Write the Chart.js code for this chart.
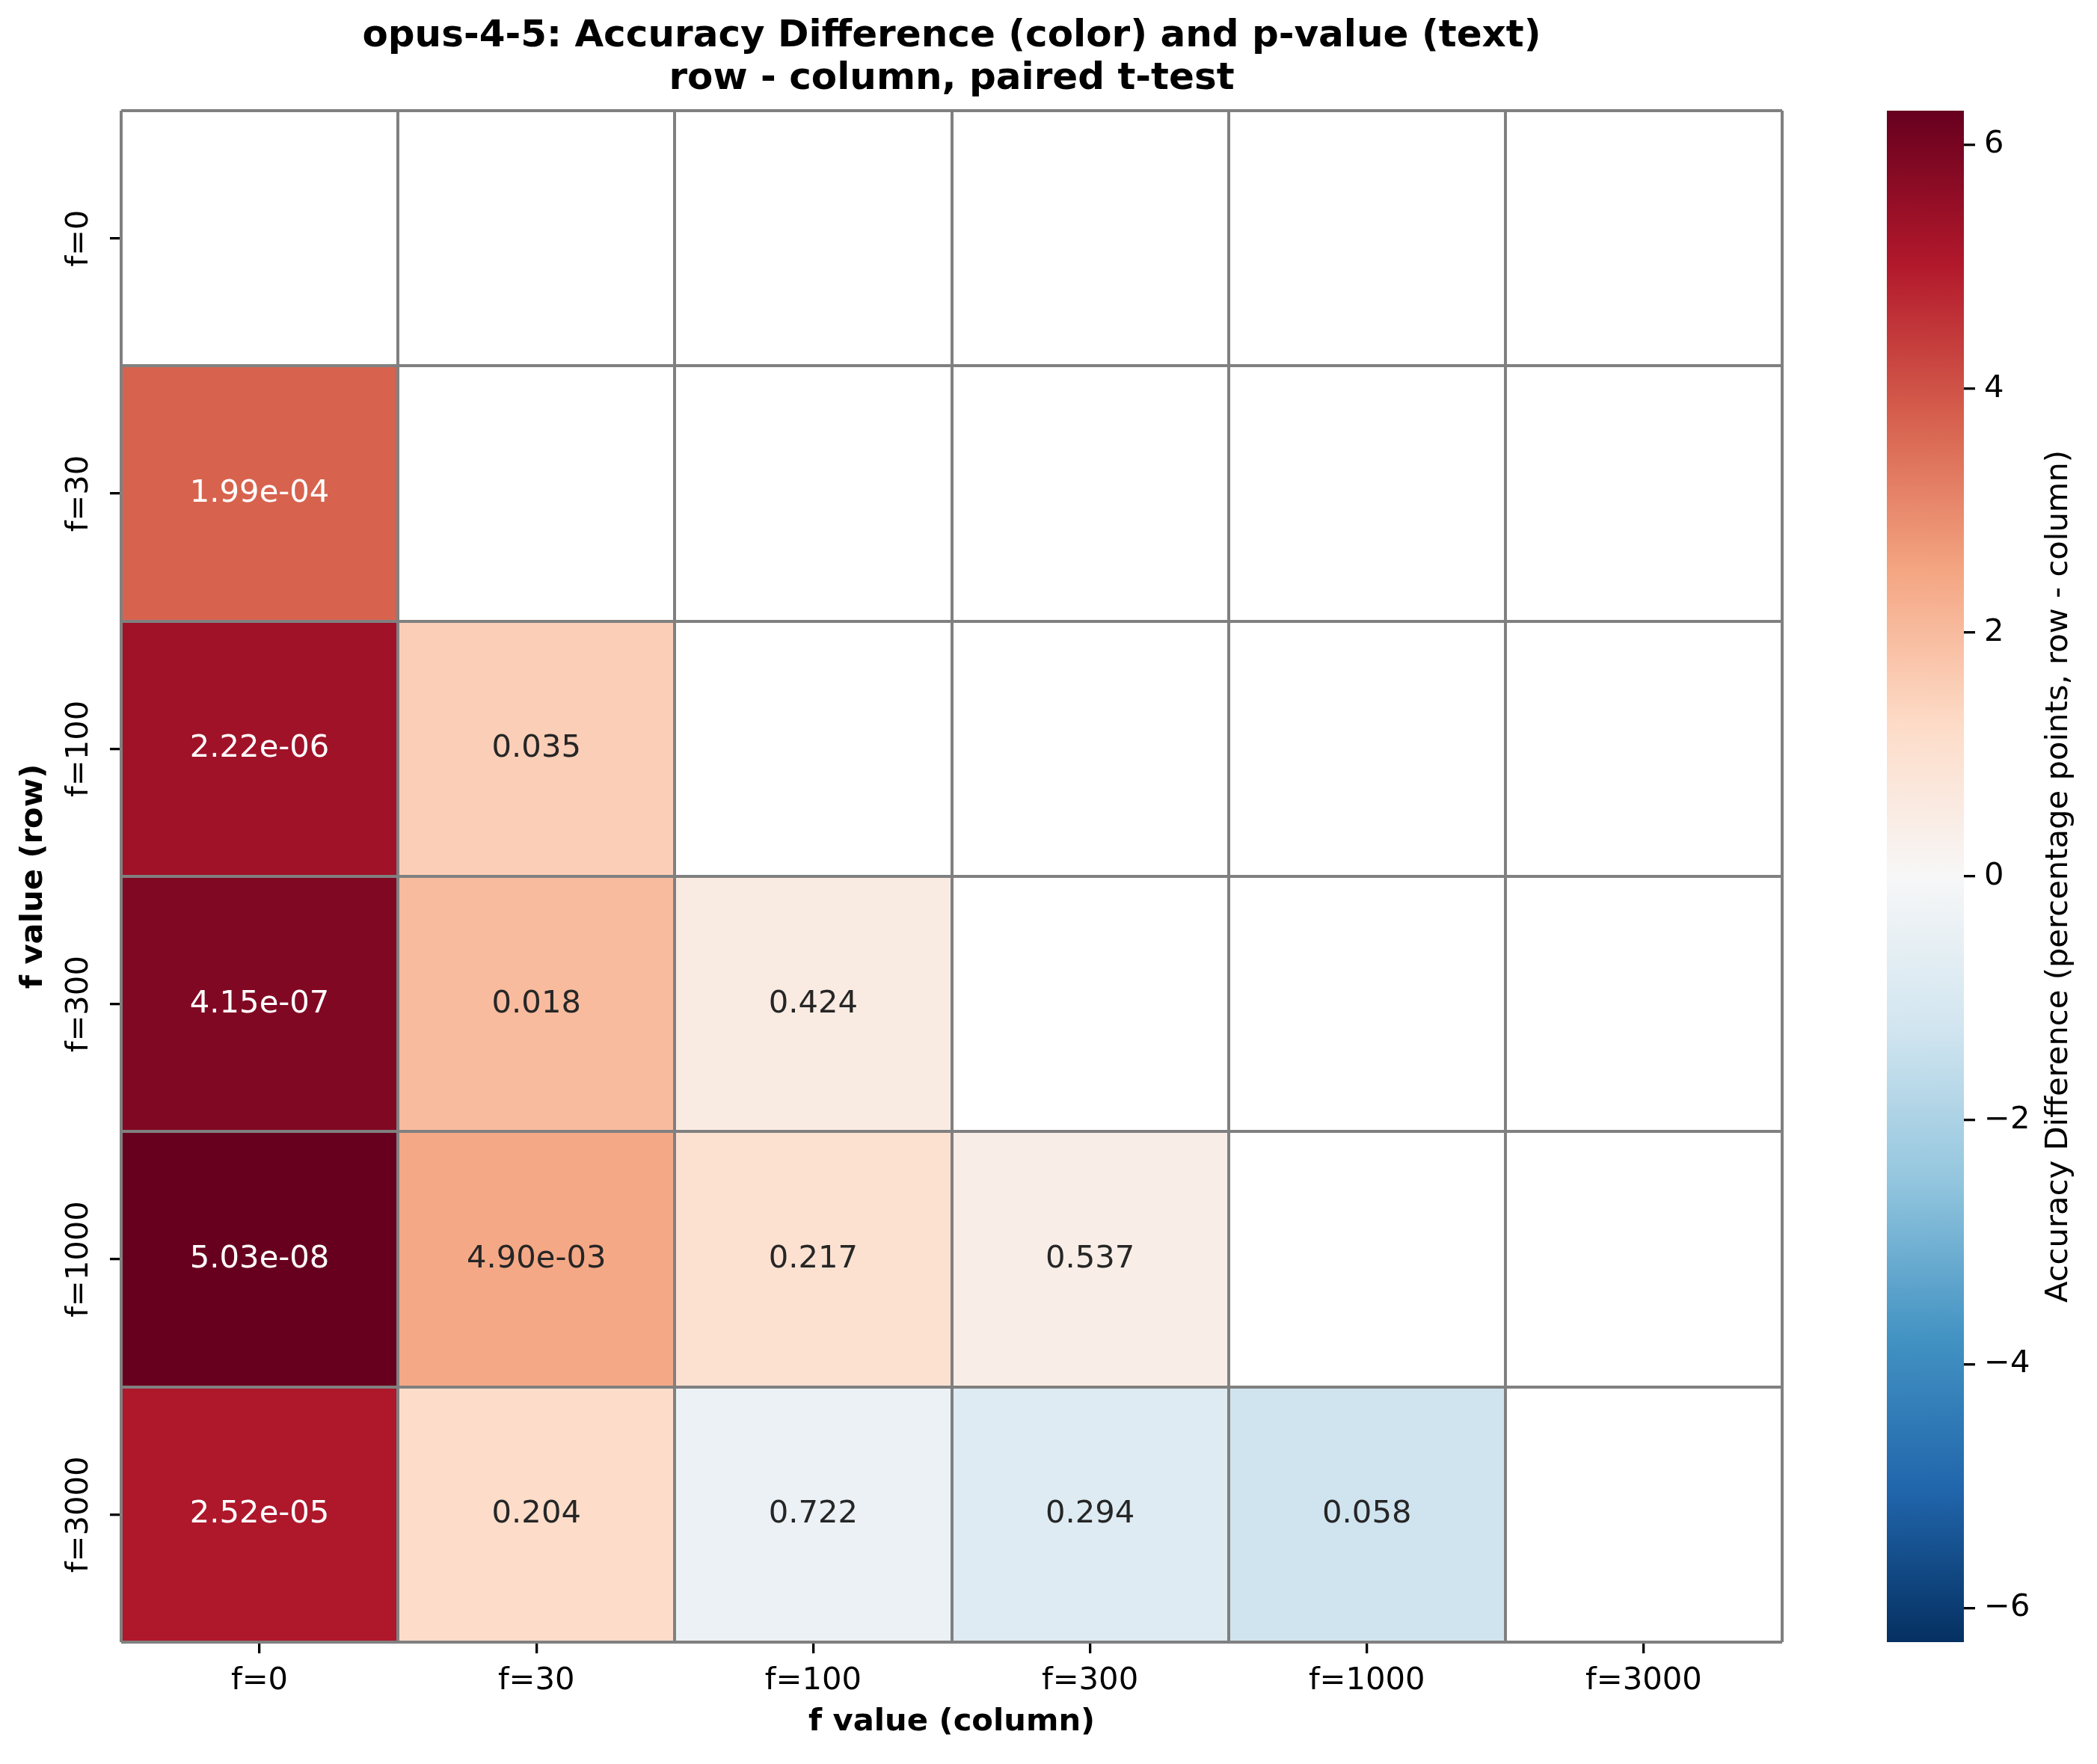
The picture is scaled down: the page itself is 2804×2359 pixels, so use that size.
<!DOCTYPE html>
<html>
<head>
<meta charset="utf-8">
<title>opus-4-5: Accuracy Difference heatmap</title>
<script src="https://cdn.jsdelivr.net/npm/chart.js@4.4.1/dist/chart.umd.min.js"></script>
<style>
  html, body { margin: 0; padding: 0; background: #fff; overflow: hidden; }
  canvas { display: block; }
</style>
</head>
<body>
<canvas id="heatmap" width="2804" height="2359"></canvas>
<script>
// === DATA ===
const rowLabels = ['f=0', 'f=30', 'f=100', 'f=300', 'f=1000', 'f=3000'];
const colLabels = ['f=0', 'f=30', 'f=100', 'f=300', 'f=1000', 'f=3000'];

// accuracy difference in percentage points (row - column), null = no cell
const accDiff = [
  [null, null, null, null, null, null],
  [3.72, null, null, null, null, null],
  [5.32, 1.55, null, null, null, null],
  [5.85, 2.01, 0.54, null, null, null],
  [6.28, 2.44, 1.00, 0.42, null, null],
  [5.07, 1.17, -0.39, -0.84, -1.28, null]
];

// paired t-test p-values (text in the cells)
const pValues = [
  [null, null, null, null, null, null],
  [1.99e-4, null, null, null, null, null],
  [2.22e-6, 0.035, null, null, null, null],
  [4.15e-7, 0.018, 0.424, null, null, null],
  [5.03e-8, 4.90e-3, 0.217, 0.537, null, null],
  [2.52e-5, 0.204, 0.722, 0.294, 0.058, null]
];

const colorbarTicks = [-6, -4, -2, 0, 2, 4, 6];

const titleLines = ['opus-4-5: Accuracy Difference (color) and p-value (text)', 'row - column, paired t-test'];
const colorbarLabel = 'Accuracy Difference (percentage points, row - column)';

// === STYLE ===
const SMALL = 41.7;
const BIG = 50;
const GRID = '#808080';

Chart.defaults.font.family = '"DejaVu Sans"';
Chart.defaults.color = '#000';

// RdBu_r stops (matplotlib)
const rdbu = ['#053061', '#2166ac', '#4393c3', '#92c5de', '#d1e5f0', '#f7f7f7',
              '#fddbc7', '#f4a582', '#d6604d', '#b2182b', '#67001f'];
const hexRgb = h => [1, 3, 5].map(k => parseInt(h.slice(k, k + 2), 16));

const colorLimit = Math.max(...accDiff.flat().filter(v => v !== null).map(Math.abs));

function cellRgb(v) {
  let t = (v + colorLimit) / (2 * colorLimit);
  t = Math.min(1, Math.max(0, t)) * 10;
  const i = Math.min(9, Math.floor(t));
  const a = hexRgb(rdbu[i]), b = hexRgb(rdbu[i + 1]);
  const f = t - i;
  return a.map((c, k) => Math.round(c + (b[k] - c) * f));
}

function textColor(v) {
  const lin = cellRgb(v).map(c => {
    c /= 255;
    return c <= 0.03928 ? c / 12.92 : Math.pow((c + 0.055) / 1.055, 2.4);
  });
  const lum = 0.2126 * lin[0] + 0.7152 * lin[1] + 0.0722 * lin[2];
  return lum > 0.408 ? '#262626' : '#ffffff';
}

function formatP(p) {
  if (p >= 0.01) return p.toFixed(3);
  return p.toExponential(2).replace(/e([+-])(\d)$/, 'e$10$2');
}

// p-value text on each cell
const cellText = {
  id: 'cellText',
  afterDatasetsDraw(chart) {
    const ctx = chart.ctx;
    ctx.save();
    ctx.font = `${SMALL}px "DejaVu Sans"`;
    ctx.textAlign = 'center';
    ctx.textBaseline = 'middle';
    chart.data.datasets.forEach((ds, i) => {
      chart.getDatasetMeta(i).data.forEach((bar, j) => {
        const p = pValues[i][j];
        if (p === null) return;
        const { x, y, base } = bar.getProps(['x', 'y', 'base'], true);
        ctx.fillStyle = textColor(accDiff[i][j]);
        ctx.fillText(formatP(p), x, (y + base) / 2);
      });
    });
    ctx.restore();
  }
};

// colour bar next to the cb axis
const colorbar = {
  id: 'colorbar',
  afterDraw(chart) {
    const ctx = chart.ctx;
    const cb = chart.scales.cb;
    const top = cb.getPixelForValue(colorLimit);
    const bottom = cb.getPixelForValue(-colorLimit);
    const right = cb.left;
    const left = right - 103;
    const g = ctx.createLinearGradient(0, bottom, 0, top);
    rdbu.forEach((c, k) => g.addColorStop(k / 10, c));
    ctx.save();
    ctx.fillStyle = g;
    ctx.fillRect(left, top, right - left, bottom - top);
    ctx.translate(cb.right - 51, (top + bottom) / 2);
    ctx.rotate(-Math.PI / 2);
    ctx.font = `${SMALL}px "DejaVu Sans"`;
    ctx.fillStyle = '#000';
    ctx.textAlign = 'center';
    ctx.textBaseline = 'middle';
    ctx.fillText(colorbarLabel, 0, 0);
    ctx.restore();
  }
};

const datasets = rowLabels.map((row, i) => ({
  label: row,
  data: colLabels.map((c, j) => accDiff[i][j] === null ? null : [i, i + 1]),
  backgroundColor: colLabels.map((c, j) => {
    const v = accDiff[i][j];
    return v === null ? 'rgba(0,0,0,0)' : `rgb(${cellRgb(v).join(',')})`;
  }),
  borderWidth: 0,
  grouped: false,
  barPercentage: 1,
  categoryPercentage: 1
}));

new Chart(document.getElementById('heatmap'), {
  type: 'bar',
  data: { labels: colLabels, datasets },
  options: {
    responsive: false,
    devicePixelRatio: 1,
    animation: false,
    events: [],
    layout: { padding: 0 },
    plugins: {
      legend: { display: false },
      tooltip: { enabled: false },
      title: {
        display: true,
        text: titleLines,
        fullSize: false,
        color: '#000',
        font: { size: BIG, weight: 'bold', lineHeight: 57 / BIG },
        padding: { top: 21, bottom: 13 }
      }
    },
    scales: {
      // cell boundaries, drawn above the cells
      x: {
        type: 'category',
        position: 'bottom',
        weight: 0,
        offset: true,
        grid: { offset: true, color: GRID, lineWidth: 4, drawTicks: false, z: 1 },
        border: { display: false },
        ticks: { display: false },
        afterFit: s => { s.height = 0; }
      },
      y: {
        type: 'linear',
        position: 'left',
        weight: 0,
        min: 0,
        max: rowLabels.length,
        reverse: true,
        grid: { color: GRID, lineWidth: 4, drawTicks: false, z: 1 },
        border: { display: false },
        ticks: { display: false, stepSize: 1 },
        afterFit: s => { s.width = 0; }
      },
      // tick labels
      xl: {
        type: 'category',
        labels: colLabels,
        position: 'bottom',
        weight: 1,
        offset: true,
        grid: { offset: false, drawOnChartArea: false, tickLength: 15, color: '#000', lineWidth: 3.3 },
        border: { display: false },
        ticks: { autoSkip: false, maxRotation: 0, padding: 12, font: { size: SMALL } },
        title: {
          display: true,
          text: 'f value (column)',
          font: { size: SMALL, weight: 'bold' },
          padding: { top: 0, bottom: 31 }
        },
        afterFit: s => { s.height = 163; }
      },
      yl: {
        type: 'category',
        labels: rowLabels,
        position: 'left',
        weight: 1,
        offset: true,
        grid: { offset: false, drawOnChartArea: false, tickLength: 15, color: '#000', lineWidth: 3.3 },
        border: { display: false },
        ticks: {
          autoSkip: false, minRotation: 90, maxRotation: 90,
          crossAlign: 'center', padding: -37, font: { size: SMALL }
        },
        title: {
          display: true,
          text: 'f value (row)',
          font: { size: SMALL, weight: 'bold' },
          padding: { top: 20, bottom: 0 }
        },
        afterFit: s => { s.width = 162; }
      },
      // space between heatmap and colour bar
      gap: {
        type: 'linear',
        position: 'right',
        weight: 0,
        grid: { display: false },
        border: { display: false },
        ticks: { display: false },
        afterFit: s => { s.width = 243; }
      },
      cb: {
        type: 'linear',
        position: 'right',
        weight: 1,
        min: -colorLimit,
        max: colorLimit,
        grid: { drawOnChartArea: false, tickLength: 15, color: '#000', lineWidth: 3.3 },
        border: { display: false },
        afterBuildTicks: s => { s.ticks = colorbarTicks.map(v => ({ value: v })); },
        ticks: {
          padding: 12,
          font: { size: SMALL },
          callback: v => (v < 0 ? '\u2212' + Math.abs(v) : String(v))
        },
        afterFit: s => { s.width = 178; }
      }
    }
  },
  plugins: [cellText, colorbar]
});
</script>
</body>
</html>
